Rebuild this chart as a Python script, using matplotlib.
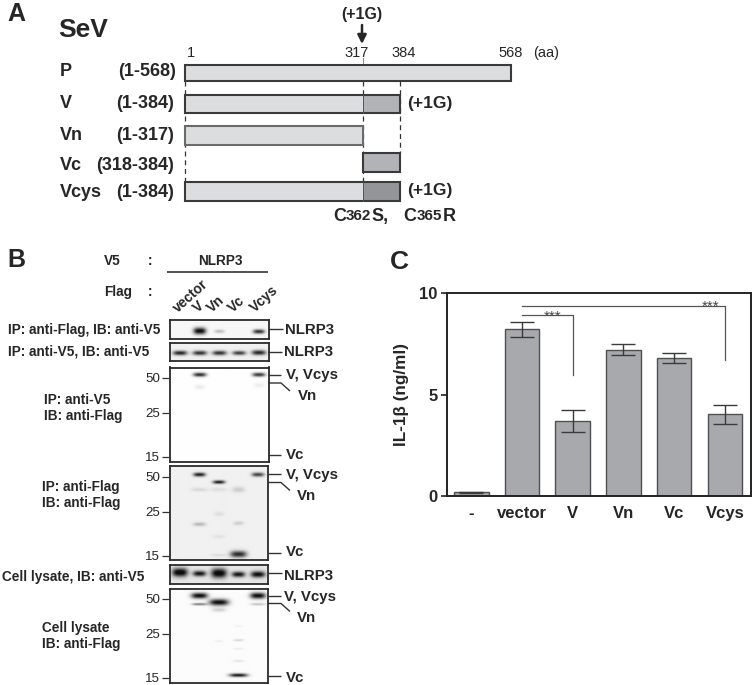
import numpy as np
import matplotlib
matplotlib.use("Agg")
import matplotlib.pyplot as plt
from matplotlib.patches import Rectangle

plt.rcParams['font.family'] = ['Liberation Sans', 'DejaVu Sans']
W, H = 753, 685
INK = '#262626'

# ---------- data ----------
# Panel A
construct_names = ['P', 'V', 'Vn', 'Vc', 'Vcys']
construct_ranges = ['(1-568)', '(1-384)', '(1-317)', '(318-384)', '(1-384)']
construct_segments = [
    [(1, 568, 'light')],
    [(1, 317, 'light'), (317, 384, 'mid')],
    [(1, 317, 'light')],
    [(317, 384, 'mid')],
    [(1, 317, 'light'), (317, 384, 'dark')],
]
aa_ticks = [1, 317, 384, 568]

# Panel C
groups = ['-', 'vector', 'V', 'Vn', 'Vc', 'Vcys']
il1b = [0.18, 8.22, 3.70, 7.20, 6.79, 4.02]
il1b_err = [0.03, 0.37, 0.56, 0.27, 0.23, 0.48]

# Panel B: band = (lane, vertical fraction, intensity, half width in lanes, thickness)
lanes = ['vector', 'V', 'Vn', 'Vc', 'Vcys']
blot_ip_flag_v5 = [(1, .60, 1.0, .32, .17), (2, .62, .25, .26, .09), (4, .63, .82, .30, .11)]
blot_ip_v5_v5 = [(0, .58, .85, .36, .12), (1, .58, .80, .36, .12), (2, .58, .80, .36, .12),
                 (3, .58, .75, .34, .11), (4, .56, .85, .36, .13)]
blot_ip_v5_flag = [(1, .09, .88, .33, .021), (4, .09, .82, .33, .021),
                   (1, .22, .08, .26, .025), (4, .20, .07, .26, .025)]
blot_ip_flag_flag = [(1, .09, .88, .31, .021), (2, .17, .90, .31, .018), (4, .09, .72, .32, .022),
                     (3, .94, .82, .42, .035), (1, .62, .24, .32, .020), (3, .61, .15, .26, .020),
                     (1, .25, .10, .42, .020), (2, .25, .08, .42, .020), (3, .25, .15, .32, .030),
                     (2, .51, .08, .26, .025), (2, .75, .06, .32, .020), (2, .95, .08, .38, .016)]
blot_lysate_v5 = [(0, .42, 1.0, .40, .22), (1, .48, .88, .34, .14), (2, .46, 1.0, .40, .24),
                  (3, .52, .88, .34, .14), (4, .52, .92, .37, .16)]
blot_lysate_flag = [(1, .09, 1.0, .42, .030), (1, .18, .55, .38, .012), (2, .16, 1.0, .50, .034),
                    (2, .24, .18, .36, .020), (4, .09, 1.0, .40, .032), (4, .18, .25, .38, .012),
                    (3, .93, .95, .47, .018), (3, .56, .18, .26, .010), (3, .41, .05, .20, .010),
                    (2, .57, .07, .20, .010), (3, .78, .10, .28, .013), (3, .65, .07, .26, .010)]

blots = [
    (170, 319.5, 268.5, 338.5, blot_ip_flag_v5, .03),
    (170, 342.5, 268.5, 361, blot_ip_v5_v5, .06),
    (170, 367.5, 268.5, 461.5, blot_ip_v5_flag, .005),
    (169.5, 466, 267.5, 560, blot_ip_flag_flag, .06),
    (169.5, 564.5, 267.5, 584, blot_lysate_v5, .10),
    (169.5, 588.5, 267.5, 682.5, blot_lysate_flag, .015),
]

# ---------- helpers ----------
fig = plt.figure(figsize=(W / 100, H / 100), dpi=100, facecolor='white')


def px_axes(x0, y0, x1, y1, **kw):
    return fig.add_axes([x0 / W, 1 - y1 / H, (x1 - x0) / W, (y1 - y0) / H], **kw)


ov = px_axes(0, 0, W, H)
ov.set_xlim(0, W)
ov.set_ylim(H, 0)
ov.axis('off')
ov.set_zorder(5)


def T(x, y, s, size=9.8, weight='bold', ha='left', va='center', **kw):
    return ov.text(x, y, s, fontsize=size, fontweight=weight, ha=ha, va=va, color=INK, **kw)


def L(xs, ys, lw=1.0, color='#333333', **kw):
    ov.plot(xs, ys, color=color, lw=lw, solid_capstyle='butt', **kw)


# ---------- panel A ----------
aa_pts = np.array([1, 317, 384, 568], float)
px_pts = np.array([185, 362.5, 400, 511], float)
forward = lambda a: np.interp(a, aa_pts, px_pts)
inverse = lambda p: np.interp(p, px_pts, aa_pts)

axA = px_axes(185, 0, 511, H)
axA.patch.set_alpha(0)
axA.set_xscale('function', functions=(forward, inverse))
axA.set_xlim(1, 568)
axA.set_ylim(H, 0)
axA.axis('off')

row_top = [64.5, 94.5, 126, 153, 182]
row_bot = [81, 113, 144.5, 171.5, 201]
row_text = [71, 103, 135.5, 165, 192.5]
fills = {'light': '#dcddde', 'mid': '#b1b3b6', 'dark': '#939598'}
edges = ['#3a3a3a', '#3a3a3a', '#6a6a6a', '#3a3a3a', '#3a3a3a']

for aa, y0, y1 in [(1, 81, 182), (317, 81, 182), (384, 81, 153)]:
    axA.plot([aa, aa], [y0, y1], color='#333333', lw=0.9, ls=(0, (4, 3)), zorder=1, clip_on=False)
axA.plot([317, 317], [58, 64], color='#888888', lw=0.7, clip_on=False)

for i, segs in enumerate(construct_segments):
    for a0, a1, kind in segs:
        axA.add_patch(Rectangle((a0, row_top[i]), a1 - a0, row_bot[i] - row_top[i],
                                facecolor=fills[kind], edgecolor='none', zorder=2, clip_on=False))
    a0, a1 = segs[0][0], segs[-1][1]
    axA.add_patch(Rectangle((a0, row_top[i]), a1 - a0, row_bot[i] - row_top[i], facecolor='none',
                            edgecolor=edges[i], lw=1.5, zorder=3, clip_on=False))
    if len(segs) > 1:
        axA.plot([317, 317], [row_top[i], row_bot[i]], color='#555555', lw=0.7, zorder=3)
    T(60, row_text[i], construct_names[i], size=13)
    T(176 if i == 0 else 174, row_text[i], construct_ranges[i], size=13, ha='right')

tick_x = {1: 190.7, 317: 357, 384: 404, 568: 510.7}
for aa in aa_ticks:
    T(tick_x[aa], 52.5, str(aa), size=10.5, weight='normal', ha='center')
T(546, 52.5, '(aa)', size=10.5, weight='normal', ha='center')
T(7, 14, 'A', size=18)
T(58, 30, 'SeV', size=19)
T(361.5, 14, '(+1G)', size=11.5, ha='center')
ov.annotate('', xy=(362, 44), xytext=(362, 25),
            arrowprops=dict(arrowstyle='-|>', color=INK, lw=1.8, mutation_scale=13, shrinkA=0, shrinkB=0))
T(407, 103, '(+1G)', size=12.5)
T(407, 190, '(+1G)', size=12.5)
for x, s, size in [(333, 'C', 13), (346, '362', 11), (371, 'S,', 13),
                   (403.5, 'C', 13), (417, '365', 11), (443, 'R', 13)]:
    T(x, 216, s, size=size)

# ---------- panel B ----------
for x0, y0, x1, y1, bands, bg in blots:
    ax = px_axes(x0, y0, x1, y1)
    nx, ny = 200, max(60, int(y1 - y0) * 3)
    xx, yy = np.meshgrid(np.linspace(-0.5, 4.5, nx), np.linspace(0, 1, ny))
    img = np.full(xx.shape, float(bg))
    for lane, yf, amp, hw, th in bands:
        img += amp * np.exp(-np.abs((xx - lane) / hw) ** 3) * np.exp(-((yy - yf) / th) ** 2)
    ax.imshow(np.clip(img, 0, 1), cmap='gray_r', vmin=0, vmax=1.05, aspect='auto',
              extent=(-0.5, 4.5, 1, 0), interpolation='bilinear')
    ax.set_xticks([])
    ax.set_yticks([])
    for s in ax.spines.values():
        s.set_linewidth(1.3)
        s.set_color('#2a2a2a')

T(7, 260, 'B', size=18)
T(104, 261, 'V5', size=9.8)
T(150, 261, ':', size=9.8, ha='center')
T(220.5, 261, 'NLRP3', size=9.8, ha='center')
L([167, 268], [272, 272], lw=1.2)
T(104, 291.5, 'Flag', size=9.8)
T(150, 291.5, ':', size=9.8, ha='center')
for name, (ax_, ay_) in zip(lanes, [(178, 313), (198, 313), (212, 313), (233, 313), (255, 313)]):
    T(ax_, ay_, name, size=10, rotation=42, rotation_mode='anchor', va='baseline')

T(8, 330, 'IP: anti-Flag, IB: anti-V5')
T(8, 351.5, 'IP: anti-V5, IB: anti-V5')
T(44.5, 400, 'IP: anti-V5')
T(44.5, 415.5, 'IB: anti-Flag')
T(42, 487, 'IP: anti-Flag')
T(42, 503, 'IB: anti-Flag')
T(2, 576.5, 'Cell lysate, IB: anti-V5')
T(42, 628, 'Cell lysate')
T(42, 644, 'IB: anti-Flag')

for x, y, ly, x1 in [(285.5, 330, 329, 283), (284, 352, 351.5, 282), (284, 576.5, 573, 282)]:
    T(x, y, 'NLRP3', size=10.8)
    L([268.5, x1], [ly, ly])
for (vy, vly), (py, ny_, vnx), (cy, cly) in [
    ((375, 375), ((383, 391), 396, 297.5), (455, 455)),
    ((475, 474), ((482.5, 490.5), 496, 297), (552.5, 553)),
    ((597.5, 595.5), ((603.5, 611.5), 618, 297), (678, 676)),
]:
    T(286 if vy < 590 else 284, vy, 'V, Vcys', size=10.8)
    L([268, 281], [vly, vly])
    L([268, 281, 290], [py[0], py[0], py[1]])
    T(vnx, ny_, 'Vn', size=10.8)
    T(285.5, cy, 'Vc', size=10.8)
    L([268, 281], [cly, cly])

for ys in [(379, 413.5, 458), (477.5, 513, 557), (600, 635, 679)]:
    for lab, y in zip(['50', '25', '15'], ys):
        T(160, y, lab, size=9.6, weight='normal', ha='right')
        L([162.5, 169], [y - 1, y - 1], lw=0.9)

# ---------- panel C ----------
axC = px_axes(446.7, 293, 750.7, 496)
x = np.arange(len(groups))
axC.bar(x, il1b, width=0.68, color='#a7a9ac', edgecolor='#505050', linewidth=1.0)
axC.errorbar(x, il1b, yerr=il1b_err, fmt='none', ecolor='#3a3a3a', elinewidth=1.0,
             capsize=8.3, capthick=1.0)
axC.set_xlim(-0.485, 5.51)
axC.set_ylim(0, 10)
axC.set_yticks([0, 5, 10])
axC.set_xticks(x)
axC.set_xticklabels(groups, fontsize=12, fontweight='bold', color=INK)
axC.tick_params(axis='x', length=0, pad=7)
axC.tick_params(axis='y', length=4.5, width=1.2, labelsize=12, pad=2, labelcolor=INK, color='#222222')
for lab in axC.get_yticklabels():
    lab.set_fontweight('bold')
for s in axC.spines.values():
    s.set_linewidth(1.4)
    s.set_color('#222222')
axC.set_ylabel('IL-1β (ng/ml)', fontsize=12.3, fontweight='bold', color=INK)
axC.yaxis.set_label_coords(-0.124, 0.5)

axC.plot([1, 2, 2], [8.9, 8.9, 5.97], color='#555555', lw=0.9)
axC.plot([1, 5, 5], [9.37, 9.37, 6.7], color='#555555', lw=0.9)
axC.text(1.6, 8.83, '***', fontsize=11, ha='center', va='center', color='#444444')
axC.text(4.72, 9.3, '***', fontsize=11, ha='center', va='center', color='#444444')
T(390, 262, 'C', size=19)

fig.savefig('out.png', dpi=100)
